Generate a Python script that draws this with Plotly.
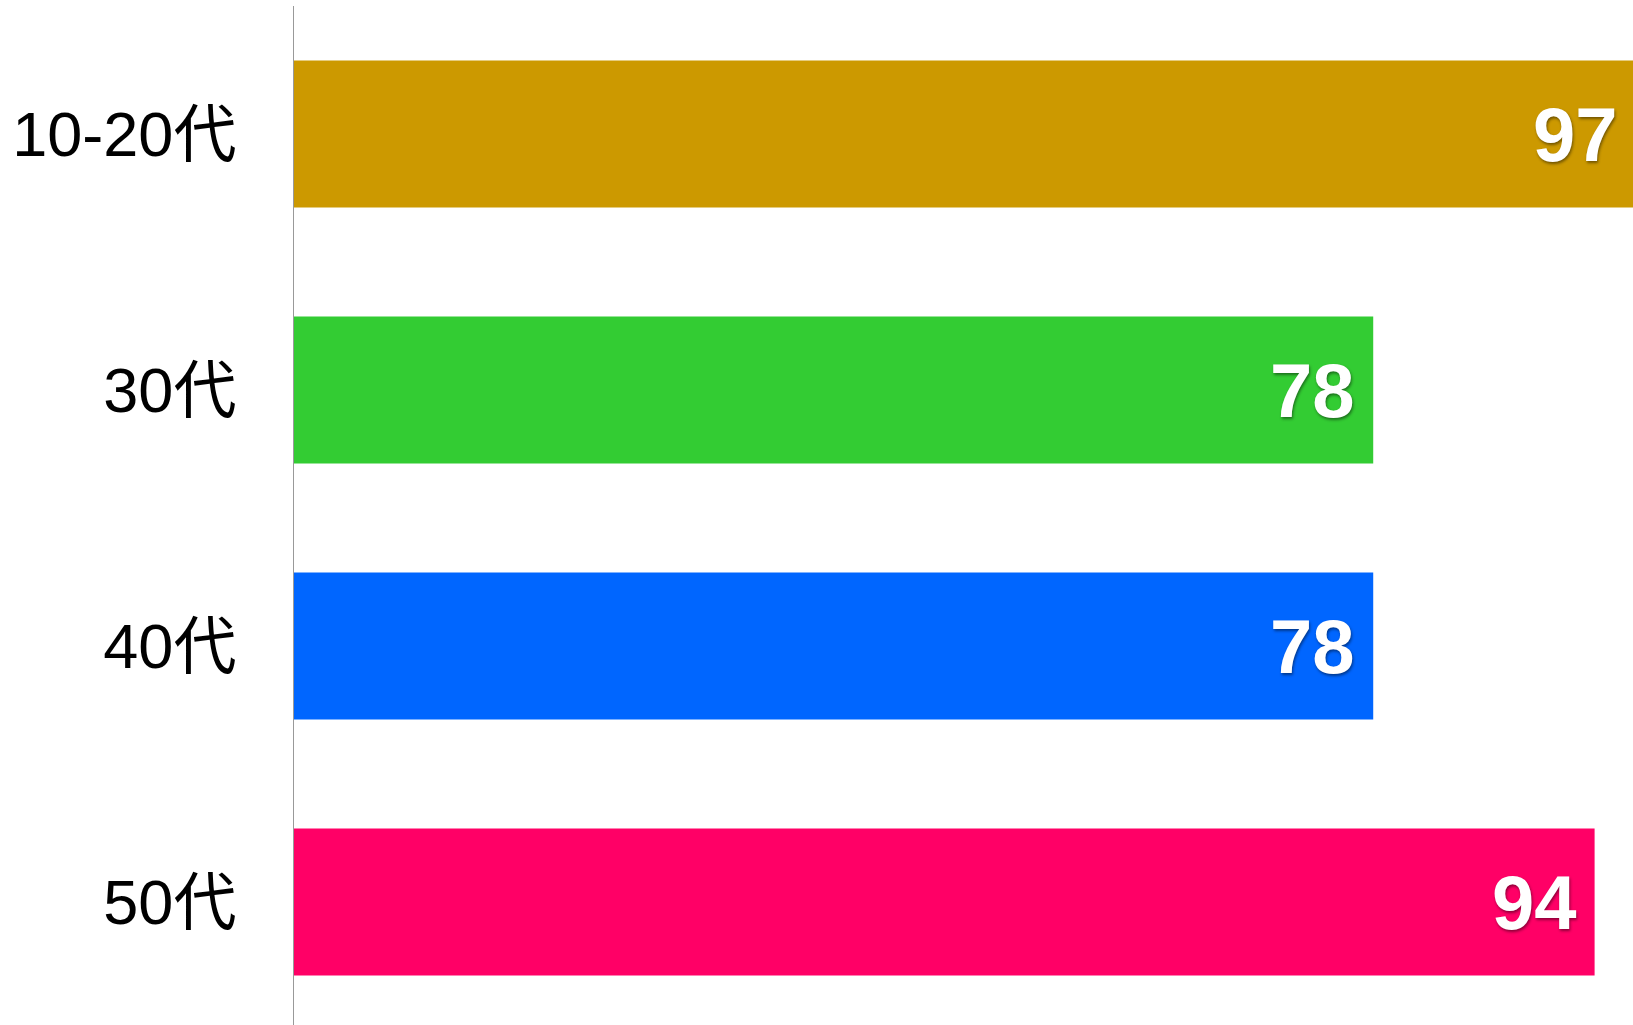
import plotly.graph_objects as go

categories = ["10-20代", "30代", "40代", "50代"]
values = [97, 78, 78, 94]
colors = ["#CC9900", "#33CC33", "#0066FF", "#FF0066"]

fig = go.Figure()
fig.add_trace(go.Bar(
    x=values,
    y=categories,
    orientation="h",
    marker=dict(color=colors, line=dict(width=0)),
    hoverinfo="skip",
))

for c, v in zip(categories, values):
    fig.add_annotation(
        x=v, y=c, xref="x", yref="y",
        text=str(v), showarrow=False,
        xanchor="right", yanchor="middle", xshift=-16,
        font=dict(family="Liberation Sans, Arial, sans-serif", size=76, color="white",
                  weight="bold", shadow="1px 2px 3px rgba(0,0,0,0.45)"),
    )

fig.update_layout(
    width=1700, height=1040,
    margin=dict(l=294, r=21, t=6, b=10),
    paper_bgcolor="white", plot_bgcolor="white",
    showlegend=False,
    bargap=0.426,
    xaxis=dict(range=[0, 100.1], visible=False, showgrid=False, zeroline=False),
    yaxis=dict(
        categoryorder="array", categoryarray=categories, autorange="reversed",
        showline=True, linecolor="#999999", linewidth=1,
        ticks="outside", ticklen=44, tickcolor="rgba(0,0,0,0)",
        showgrid=False, zeroline=False,
        tickfont=dict(family="Liberation Sans, Arial, Noto Sans CJK JP, sans-serif", size=63, color="black"),
    ),
)

fig.write_html("out.html", config={"displayModeBar": False},
               post_script="document.body.style.margin='0';document.body.style.overflow='hidden';")
